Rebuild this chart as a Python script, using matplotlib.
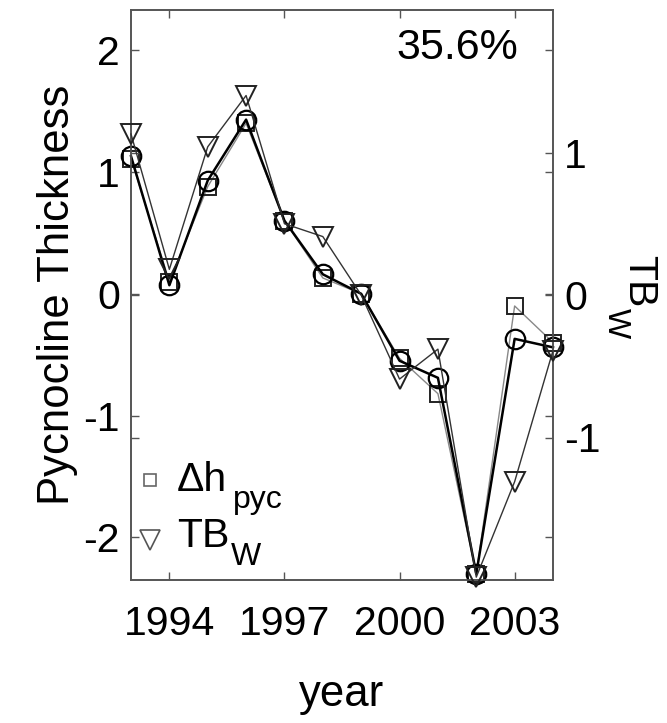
import matplotlib
matplotlib.use("Agg")
import matplotlib.pyplot as plt

plt.rcParams['font.family'] = ['Liberation Sans', 'DejaVu Sans']
plt.rcParams['axes.unicode_minus'] = False

# data
years = [1993, 1994, 1995, 1996, 1997, 1998, 1999, 2000, 2001, 2002, 2003, 2004]
dh_pyc = [1.11, 0.10, 0.88, 1.40, 0.60, 0.13, 0.0, -0.53, -0.82, -2.30, -0.10, -0.40]
dh_fit = [1.13, 0.07, 0.93, 1.43, 0.60, 0.16, 0.0, -0.55, -0.69, -2.30, -0.37, -0.44]
tb_w = [1.13, 0.18, 1.04, 1.40, 0.50, 0.41, 0.0, -0.59, -0.38, -1.98, -1.31, -0.39]

fs = 29.5
edge = '#555555'
W, H = 667, 723

fig = plt.figure(figsize=(6.67, 7.23), dpi=100)
ax = fig.add_axes([131/W, 1-580/H, (553-131)/W, (580-10)/H])
ax2 = ax.twinx()

ax.plot(years, dh_pyc, color='#888888', lw=1.0, marker='s', ms=11,
        mfc='none', mec='#222222', mew=1.4, zorder=3, clip_on=False)
ax.plot(years, dh_fit, color='black', lw=1.8, marker='o', ms=14,
        mfc='none', mec='black', mew=1.6, zorder=4, clip_on=False)
ax2.plot(years, tb_w, color='#333333', lw=1.0, marker='v', ms=15,
         mfc='none', mec='#222222', mew=1.4, zorder=3, clip_on=False)

ax.set_xlim(1993, 2004)
ax.set_ylim(-2.35, 2.33)
ax2.set_ylim(-2, 2)
ax.set_xticks([1994, 1997, 2000, 2003])
ax.set_yticks([-2, -1, 0, 1, 2])
ax2.set_yticks([-1, 0, 1])

ax.tick_params(direction='in', length=6, width=1, color=edge, labelsize=fs,
               top=True, right=True, pad=8)
ax.tick_params(axis='x', pad=18)
ax2.tick_params(direction='in', length=6, width=1, color=edge, labelsize=fs,
                left=True, pad=8)
for a in (ax, ax2):
    for s in a.spines.values():
        s.set_color(edge)
        s.set_linewidth(1.2)

ax.set_xlabel('year', fontsize=31.5, labelpad=22)
ax.set_ylabel('Pycnocline Thickness', fontsize=31.5, labelpad=4)

# right axis label TB_W, written in pieces like the original
fig.text(628/W, 1-255/H, 'TB', fontsize=fs, rotation=270,
         rotation_mode='anchor', ha='left', va='baseline')
fig.text(608/W, 1-308/H, 'W', fontsize=23, rotation=270,
         rotation_mode='anchor', ha='left', va='baseline')

ax.text(0.917, 0.933, '35.6%', transform=ax.transAxes, fontsize=31,
        ha='right', va='center')

# legend drawn by hand (no frame)
ax.plot([(150-131)/422], [(580-480)/570], transform=ax.transAxes, marker='s',
        ms=9, mfc='none', mec='#666666', mew=1.2, clip_on=False)
ax.plot([(150-131)/422], [(580-540)/570], transform=ax.transAxes, marker='v',
        ms=15, mfc='none', mec='#555555', mew=1.2, clip_on=False)
fig.text(177/W, 1-491/H, '\u0394h', fontsize=fs, va='baseline', ha='left')
fig.text(233/W, 1-508/H, 'pyc', fontsize=23, va='baseline', ha='left')
fig.text(177/W, 1-547/H, 'TB', fontsize=fs, va='baseline', ha='left')
fig.text(231/W, 1-565/H, 'W', fontsize=23, va='baseline', ha='left')

fig.savefig('out.png', dpi=100)
